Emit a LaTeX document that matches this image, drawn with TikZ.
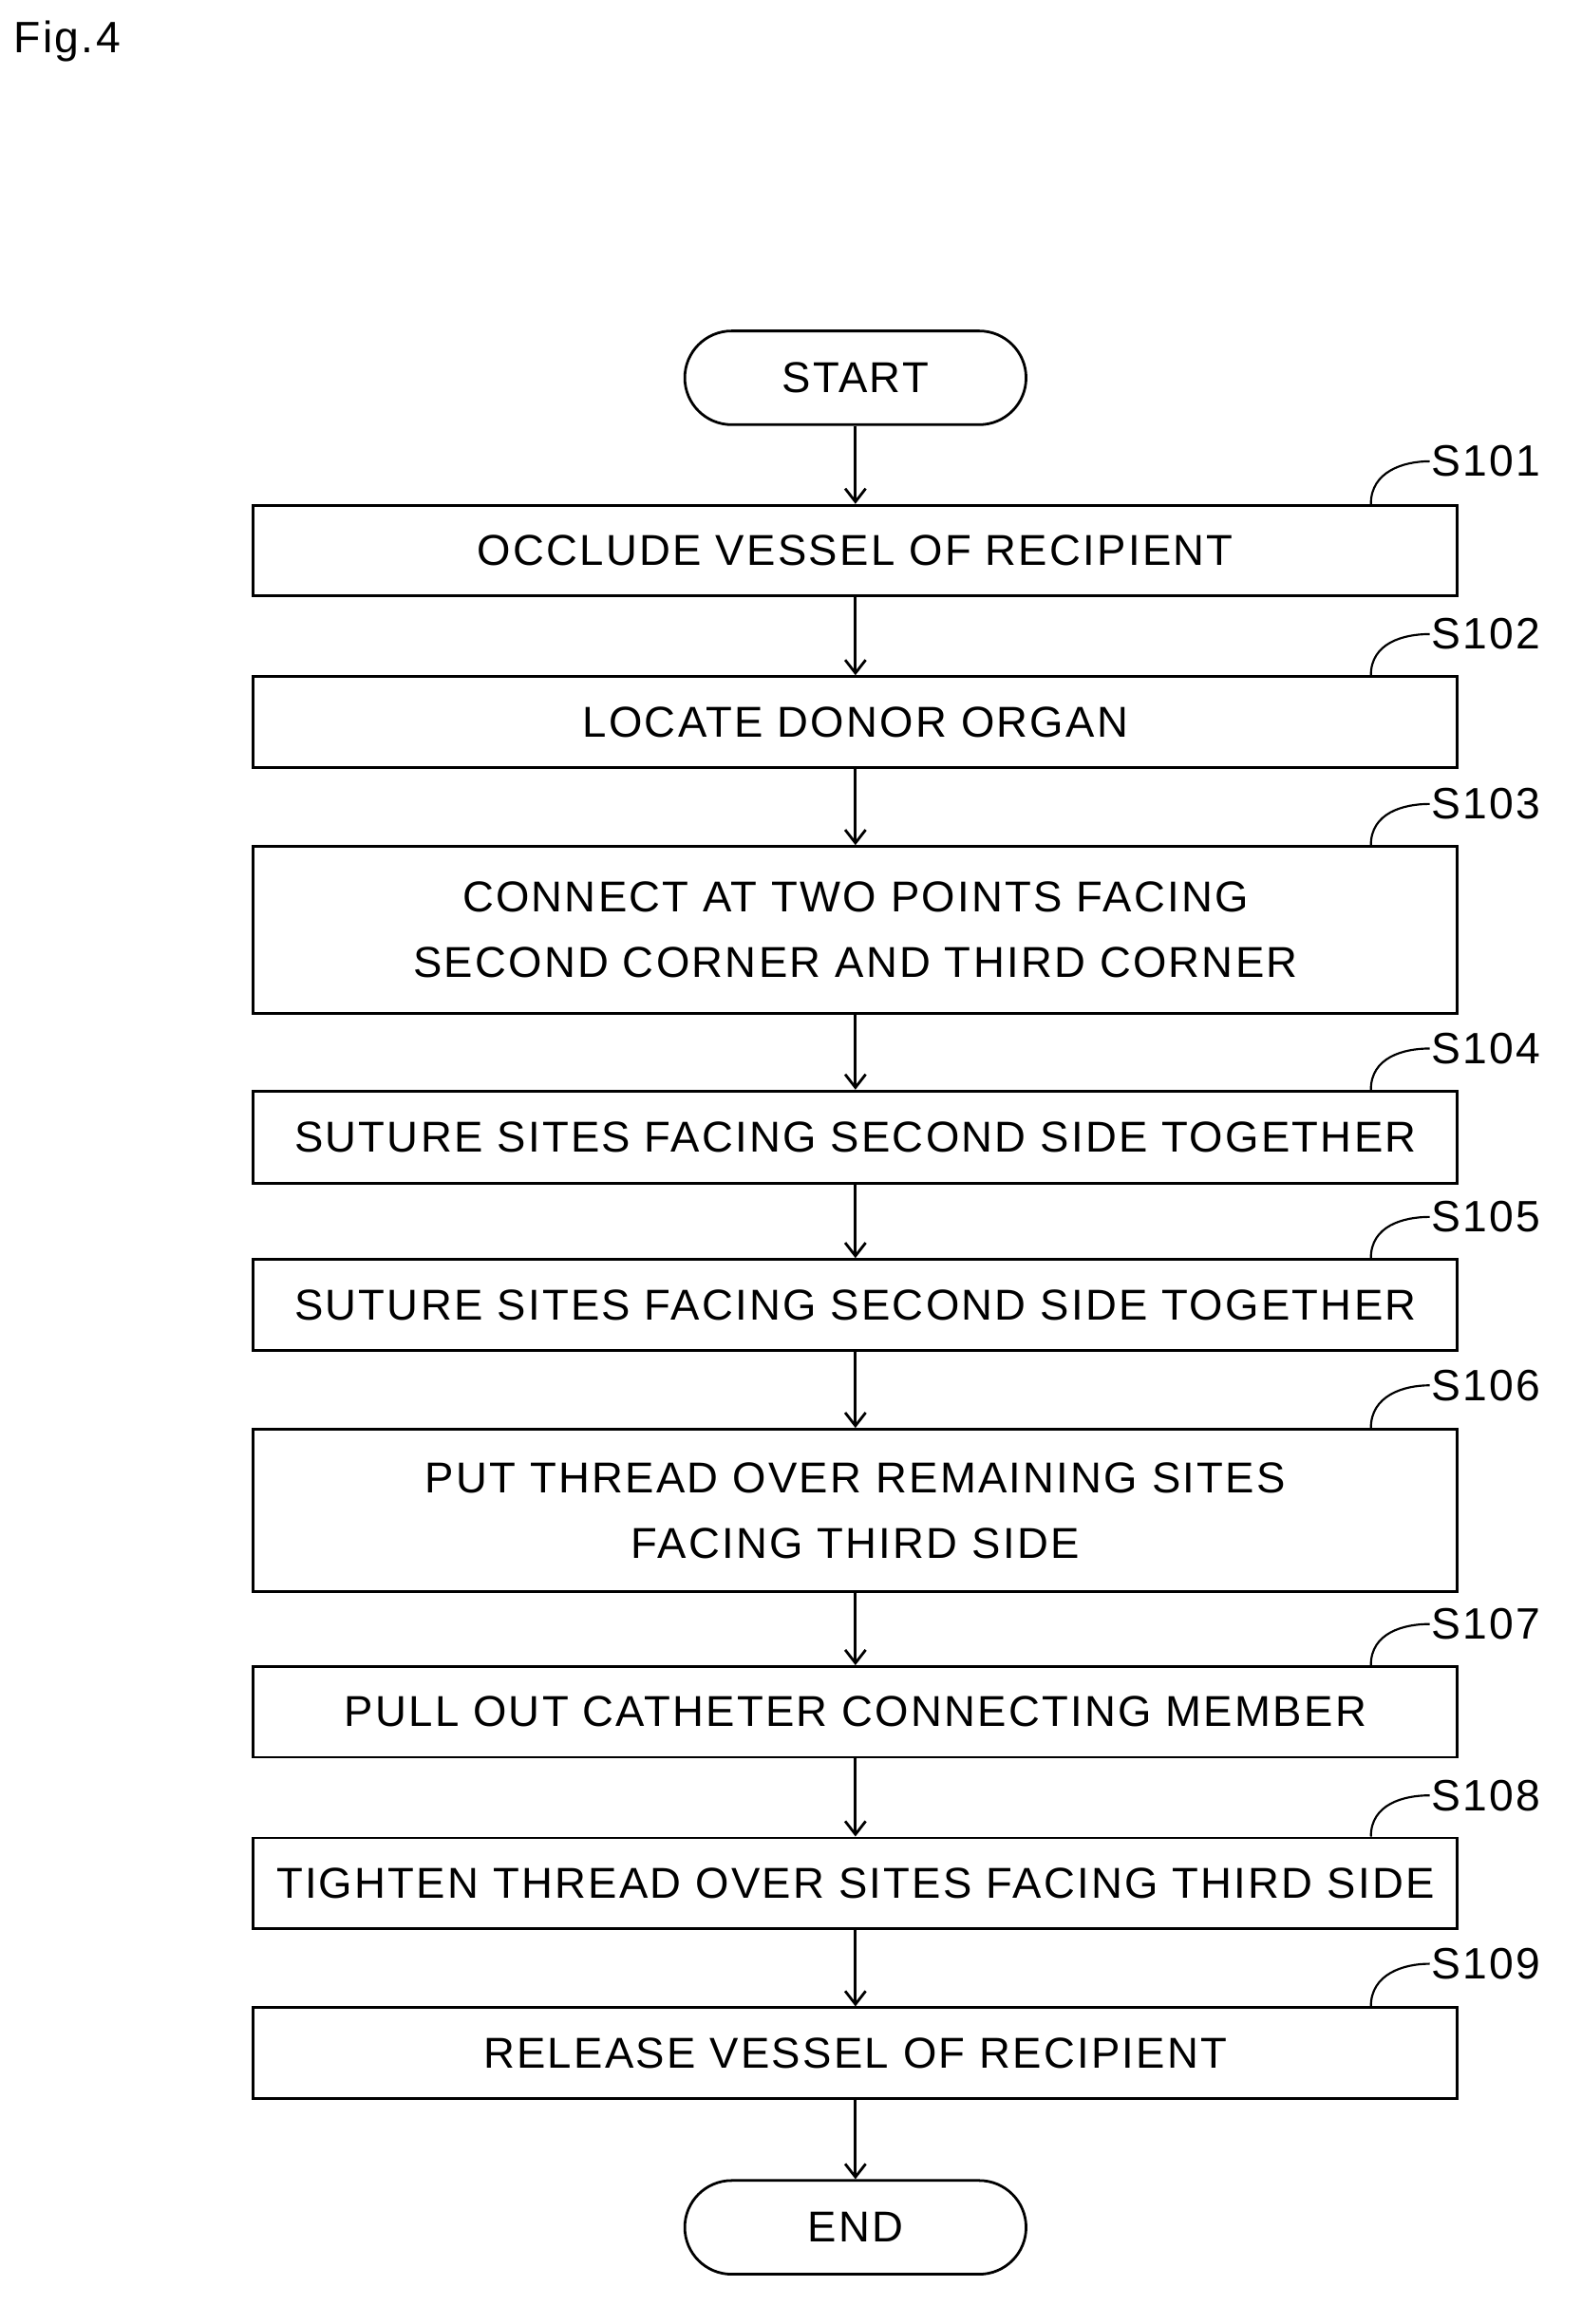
\documentclass[tikz,border=0pt]{standalone}
\usepackage{fontspec}
\setmainfont[LetterSpace=5]{Liberation Sans}
\usetikzlibrary{arrows.meta}
\begin{document}
\begin{tikzpicture}[x=1pt,y=-1pt,
 box/.style={draw,line width=1.8pt,minimum width=822pt,align=center,font=\fontsize{29.5}{45}\selectfont,inner sep=0pt},
 term/.style={draw,line width=1.8pt,rounded corners=32pt,minimum width=233pt,minimum height=64pt,font=\fontsize{29.5}{32}\selectfont},
 arr/.style={line width=1.8pt,-{Straight Barb[length=9pt,width=14pt,line width=1.8pt]}},
 lab/.style={font=\fontsize{30}{32}\selectfont,anchor=west,inner sep=1pt}]
\useasboundingbox (0,0) rectangle (1080,1587);
\node[anchor=west,font=\fontsize{30}{34}\selectfont] (fig) at (6,28) {Fig.4};
\node[term] (start) at (584,258) {START};
\node[box,minimum height=62pt] (s1) at (584,376) {OCCLUDE VESSEL OF RECIPIENT};
\node[box,minimum height=62pt] (s2) at (584,493) {LOCATE DONOR ORGAN};
\node[box,minimum height=114pt] (s3) at (584,635) {CONNECT AT TWO POINTS FACING\\SECOND CORNER AND THIRD CORNER};
\node[box,minimum height=63pt] (s4) at (584,776.5) {SUTURE SITES FACING SECOND SIDE TOGETHER};
\node[box,minimum height=62pt] (s5) at (584,891) {SUTURE SITES FACING SECOND SIDE TOGETHER};
\node[box,minimum height=111pt] (s6) at (584,1031.5) {PUT THREAD OVER REMAINING SITES\\FACING THIRD SIDE};
\node[box,minimum height=62pt] (s7) at (584,1169) {PULL OUT CATHETER CONNECTING MEMBER};
\node[box,minimum height=62pt] (s8) at (584,1286) {TIGHTEN THREAD OVER SITES FACING THIRD SIDE};
\node[box,minimum height=62pt] (s9) at (584,1402) {RELEASE VESSEL OF RECIPIENT};
\node[term] (end) at (584,1521) {END};
\foreach \a/\b in {start/s1,s1/s2,s2/s3,s3/s4,s4/s5,s5/s6,s6/s7,s7/s8,s8/s9,s9/end}
 \draw[arr] (\a.south) -- (\b.north);
\foreach \n/\t/\y in {s1/S101/315,s2/S102/433,s3/S103/549,s4/S104/716,s5/S105/831,s6/S106/946,s7/S107/1109,s8/S108/1226,s9/S109/1341}{
 \node[lab] (l\n) at (976,\y) {\t};
 \draw[line width=1.4pt] ([xshift=-60pt]\n.north east) .. controls +(0,-22) and +(-18,0) .. (l\n.west);
}
\end{tikzpicture}
\end{document}
